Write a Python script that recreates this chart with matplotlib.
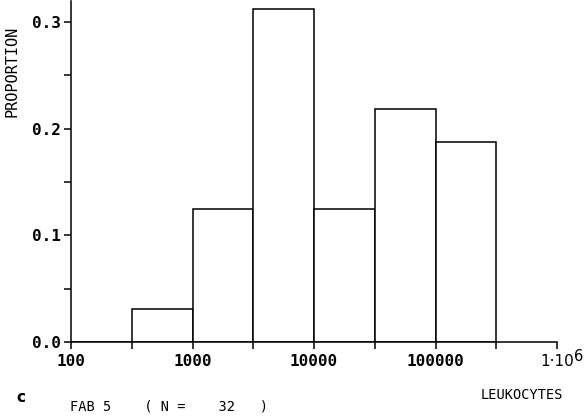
import matplotlib.pyplot as plt
import numpy as np

# leucocitosi, FAB 5: conteggi per mezza decade (N = 32)
bordi = [10**2.0, 10**2.5, 10**3.0, 10**3.5, 10**4.0, 10**4.5, 10**5.0, 10**5.5]
conteggi = [0, 1, 4, 10, 4, 7, 6]
N = 32
proporzioni = np.array(conteggi) / N

tick_x = [100, 1000, 10000, 100000, 1000000]
etichette_x = ["100", "1000", "10000", "100000", "1\u00b710"]
tick_y = [0.0, 0.1, 0.2, 0.3]
etichette_y = ["0.0", "0.1", "0.2", "0.3"]

plt.rcParams['font.family'] = ['DejaVu Sans Mono']

fig = plt.figure(figsize=(5.87, 4.19), dpi=100)
ax = fig.add_axes([0.1210, 0.184, 0.828, 0.814])

larghezze = np.diff(bordi)
ax.bar(bordi[:-1], proporzioni, width=larghezze, align='edge',
       facecolor='white', edgecolor='black', linewidth=1.1)

ax.set_xscale('log')
ax.set_xlim(100, 1e6)
ax.set_ylim(0, 0.32)

ax.set_xticks(tick_x)
ax.set_xticklabels(etichette_x, fontsize=11.5, fontweight='bold')
ax.set_xticks(bordi[1::2], minor=True)
ax.xaxis.set_minor_formatter(plt.NullFormatter())
ax.set_yticks(tick_y)
ax.set_yticklabels(etichette_y, fontsize=11.5, fontweight='bold')
ax.set_yticks([0.05, 0.15, 0.25], minor=True)

# l'ultima etichetta (1·10^6) e' in carattere proporzionale, con esponente a parte
ultima = ax.get_xticklabels()[-1]
ultima.set_family('DejaVu Sans')
ultima.set_fontweight('normal')
ultima.set_fontsize(11)
ax.annotate("6", xy=(1e6, 0), xycoords=('data', 'axes fraction'),
            xytext=(12, -5), textcoords='offset points',
            ha='left', va='top', fontsize=10.5, family='DejaVu Sans')

ax.tick_params(axis='both', which='both', direction='out', length=5, width=1.1)
ax.tick_params(axis='x', which='major', pad=4)
ax.tick_params(axis='y', which='major', pad=2)

for lato in ['top', 'right']:
    ax.spines[lato].set_visible(False)
ax.spines['left'].set_linewidth(1.1)
ax.spines['bottom'].set_linewidth(1.1)

fig.text(0.021, 0.83, "PROPORTION", rotation=90, ha='center', va='center', fontsize=11)
fig.text(0.959, 0.057, "LEUKOCYTES", ha='right', va='center', fontsize=9.8)
fig.text(0.036, 0.052, "c", ha='center', va='center', fontsize=11, fontweight='bold',
         family='DejaVu Sans')
fig.text(0.120, 0.029, "FAB 5    ( N =    %d   )" % N, ha='left', va='center', fontsize=9.8)

fig.savefig("out.png", dpi=100)
